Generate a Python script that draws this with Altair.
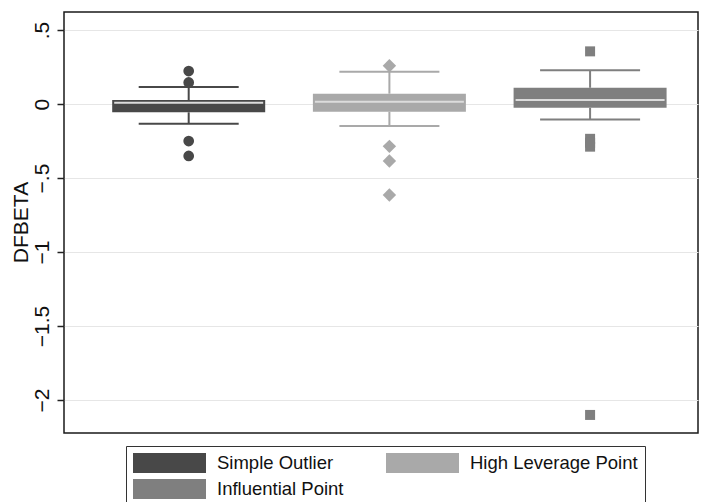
import altair as alt
import pandas as pd

groups = ["Simple Outlier", "High Leverage Point", "Influential Point"]
colors = ["#484848", "#a9a9a9", "#7f7f7f"]
shapes = ["circle", "diamond", "square"]
marker_sizes = [115, 180, 100]

q1 = [-0.056, -0.052, -0.025]
median = [0.009, 0.016, 0.027]
q3 = [0.027, 0.070, 0.110]
whisker_low = [-0.133, -0.149, -0.104]
whisker_high = [0.115, 0.218, 0.228]

outlier_group = (["Simple Outlier"] * 4 + ["High Leverage Point"] * 4
                 + ["Influential Point"] * 5)
outlier_value = [0.223, 0.146, -0.250, -0.351,
                 0.259, -0.286, -0.385, -0.615,
                 0.356, -0.235, -0.262, -0.288, -2.101]

y_ticks = [-2, -1.5, -1, -0.5, 0, 0.5]
y_tick_labels = ["\u22122", "\u22121.5", "\u22121", "\u2212.5", "0", ".5"]

box_df = pd.DataFrame({"group": groups, "q1": q1, "median": median, "q3": q3,
                       "lo": whisker_low, "hi": whisker_high})
out_df = pd.DataFrame({"group": outlier_group, "value": outlier_value})

label_expr = " : ".join(
    f"abs(datum.value - ({v})) < 0.001 ? '{l}'" for v, l in zip(y_ticks, y_tick_labels)
) + " : ''"

W, H = 634, 421

x_enc = alt.X("group:N", sort=groups,
              scale=alt.Scale(domain=groups, paddingInner=0, paddingOuter=0.0795, align=0.763),
              axis=None)
y_scale = alt.Scale(domain=[-2.223, 0.622], nice=False, zero=False)
y_axis = alt.Axis(values=y_ticks, labelExpr=label_expr, title="DFBETA",
                  grid=True, gridColor="#e6e6e6", gridWidth=1,
                  domain=False, tickColor="#222222", tickSize=7, tickWidth=1.5,
                  labelAngle=270, labelAlign="center", labelBaseline="alphabetic",
                  labelPadding=9, labelFontSize=21, labelFont="Liberation Sans",
                  labelColor="#111111",
                  titleFontSize=21, titleFont="Liberation Sans", titleFontWeight="normal",
                  titleColor="#111111", titleAngle=270, titleAlign="center",
                  titleBaseline="alphabetic", titleX=-37, titleY=210)


def Y(field):
    return alt.Y(f"{field}:Q", scale=y_scale, axis=y_axis)


color_scale = alt.Scale(domain=groups, range=colors)
legend = alt.Legend(title=None, orient="none", legendX=62, legendY=434,
                    columns=2, direction="horizontal",
                    symbolType="M-1,-0.274H1V0.274H-1Z", symbolSize=5329,
                    symbolStrokeWidth=0, symbolOpacity=1, clipHeight=20,
                    rowPadding=6, columnPadding=42, labelOffset=11,
                    labelFontSize=18.5, labelFont="Liberation Sans",
                    labelColor="#111111", labelLimit=400,
                    padding=7, strokeColor="#333333", fillColor="white")
color_enc = alt.Color("group:N", scale=color_scale, legend=legend)

base = alt.Chart(box_df)

upper_whisker = base.mark_rule(strokeWidth=2).encode(
    x=x_enc, y=Y("hi"), y2="q3:Q", color=color_enc)
lower_whisker = base.mark_rule(strokeWidth=2).encode(
    x=x_enc, y=Y("q1"), y2="lo:Q", color=color_enc)
cap_hi = base.mark_tick(size=100, thickness=2, opacity=1).encode(
    x=x_enc, y=Y("hi"), color=color_enc)
cap_lo = base.mark_tick(size=100, thickness=2, opacity=1).encode(
    x=x_enc, y=Y("lo"), color=color_enc)
boxes = base.mark_bar(width=153, opacity=1).encode(
    x=x_enc, y=Y("q1"), y2="q3:Q", color=color_enc)
medians = base.mark_tick(size=149, thickness=2, color="#dcdcdc", opacity=1).encode(
    x=x_enc, y=Y("median"))

outlier_layers = []
for g, c, s, sz in zip(groups, colors, shapes, marker_sizes):
    outlier_layers.append(
        alt.Chart(out_df).transform_filter(alt.datum.group == g)
        .mark_point(filled=True, opacity=1, strokeWidth=0, shape=s, size=sz, fill=c)
        .encode(x=x_enc, y=Y("value"))
    )

chart = alt.layer(upper_whisker, lower_whisker, cap_hi, cap_lo, boxes, medians,
                  *outlier_layers).properties(
    width=W, height=H,
    autosize=alt.AutoSizeParams(type="none"),
    padding={"left": 64, "top": 12, "right": 10, "bottom": 69},
    view=alt.ViewBackground(stroke="#1a1a1a", strokeWidth=1.5),
).configure_view(
    stroke="#1a1a1a", strokeWidth=1.5
).configure(background="white")

chart.save("out.html", embed_options={"renderer": "svg", "actions": False})
